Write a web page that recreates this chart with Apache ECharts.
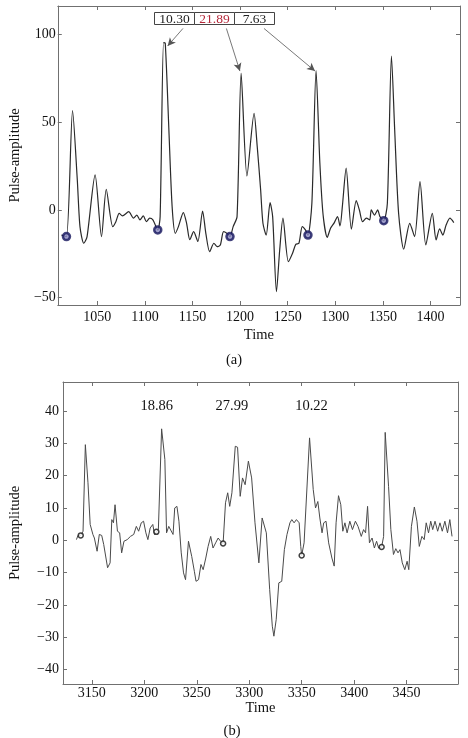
<!DOCTYPE html>
<html>
<head>
<meta charset="utf-8">
<script src="https://cdn.jsdelivr.net/npm/echarts@6/dist/echarts.min.js"></script>
<style>
  html, body { margin: 0; padding: 0; background: #fff; }
  #chart { width: 468px; height: 738px; }
</style>
</head>
<body>
<div id="chart"></div>
<script>
// panel (a)
const timeA = [1012.2, 1017.6, 1024, 1029, 1031.8, 1035.8, 1039.2, 1047.7, 1054.4, 1059.4,
  1066.2, 1069.5, 1073, 1076.4, 1083, 1088, 1091.5, 1094.8, 1098.3, 1101.6,
  1105, 1108.4, 1113.5, 1116, 1119.6, 1121.4, 1125.2, 1128.6, 1132, 1135.2,
  1140.4, 1143.8, 1147.2, 1151.2, 1155.6, 1160.6, 1164, 1168, 1172.5, 1175.8,
  1179.2, 1182.6, 1186, 1189.4, 1192.7, 1196.8, 1201.1, 1207.2, 1214.7, 1218,
  1221.5, 1224, 1227.4, 1231.5, 1234.2, 1238.2, 1241.6, 1245, 1250.7, 1255.1,
  1258.5, 1261.8, 1265.3, 1268.6, 1271.3, 1275.4, 1279.8, 1283.8, 1287.2, 1291.6,
  1295, 1299, 1302.3, 1305, 1307.4, 1311.4, 1316.9, 1322, 1325.3, 1328.7,
  1332.7, 1336.1, 1337.8, 1341.2, 1344.5, 1346.9, 1350.9, 1354.7, 1359, 1362.4,
  1366.5, 1371.9, 1378.2, 1383.3, 1389, 1395.1, 1401.9, 1405.9, 1409.6, 1413,
  1416.4, 1420.4, 1424.5];
const ampA = [-14.3, -15.2, 56.6, 17, -9.5, -19, -15.4, 20, -15.2, 11.8,
  -9.5, -6.7, -1.9, -3.4, -1, -4.7, -2.9, -5.7, -3.4, -6.7,
  -4.7, -5.7, -11.4, -3.8, 95.4, 95, 45.6, 1.9, -13.3, -9.5,
  -1.5, -7.6, -17, -12.4, -18, -0.6, -13.3, -23.8, -19, -20.9,
  -20, -12.4, -13.3, -15.2, -9.5, -3.8, 77.9, 19.4, 55.1, 36.1,
  12, -7.6, -14.3, 4.2, -3.8, -46.6, -22.8, -4.7, -29.5, -24.7,
  -19.6, -19, -9.5, -11.4, -14.3, 3.8, 79.4, 26.6, -2.9, -15.6,
  -10.4, -7.2, -3.8, -9.1, 1.9, 23.8, -11, 5.3, 0, -6.7,
  -4.7, -5.7, 0, -2.9, 0, -3.8, -6.1, 3.8, 87.8, 45.6,
  -1.9, -22.4, -7.6, -15.2, 16.1, -20, -1.9, -17.1, -10.8, -14.3,
  -8.6, -4.7, -7.2];
const onsetTimeA = [1017.6, 1113.5, 1189.4, 1271.3, 1350.9];
const onsetAmpA = [-15.2, -11.4, -15.2, -14.3, -6.1];
const intervalsA = ['10.30', '21.89', '7.63'];
const ticksXA = [1050, 1100, 1150, 1200, 1250, 1300, 1350, 1400];
const ticksYA = [-50, 0, 50, 100];

// panel (b)
const timeB = [3135.3, 3136.8, 3139.4, 3141.6, 3143.8, 3146.3, 3148.4, 3151, 3152.4, 3155,
  3157.1, 3159.4, 3161.3, 3162.8, 3165, 3167.4, 3169, 3170.6, 3172.1, 3174.4,
  3176.5, 3178.4, 3180.6, 3183.7, 3186.8, 3189.9, 3192.4, 3194.6, 3197.1, 3199.3,
  3201.5, 3203.4, 3205.6, 3208.1, 3209.7, 3211.5, 3213.4, 3216.5, 3219.6, 3221.2,
  3223.3, 3225, 3227.4, 3229, 3231.1, 3233, 3235.2, 3237.4, 3239.3, 3242.1,
  3245.2, 3247.7, 3249.3, 3251.7, 3254, 3256.1, 3258.6, 3260.8, 3263.3, 3265.5,
  3268, 3270.4, 3272.7, 3275.1, 3277.4, 3279.5, 3281.4, 3283.5, 3286.7, 3288.9,
  3291.4, 3293.6, 3296.1, 3299.2, 3302.3, 3305.5, 3309.2, 3312.3, 3316.3, 3319.5,
  3322, 3323.5, 3325.7, 3328.2, 3331, 3333.5, 3336, 3338.8, 3340.6, 3342.8,
  3345, 3347.6, 3349.1, 3350, 3352.3, 3357.5, 3361, 3363.2, 3365.4, 3367.3,
  3369.4, 3371, 3373.2, 3375.7, 3378.8, 3381, 3382.8, 3385.1, 3387.3, 3389.2,
  3391.2, 3393.3, 3395.9, 3398.4, 3401.2, 3403.7, 3406.8, 3409, 3410.9, 3412.8,
  3414.6, 3417.1, 3419.3, 3421.4, 3423.3, 3426.2, 3428.1, 3429.6, 3432.8, 3435,
  3437.5, 3439.7, 3441.8, 3443.7, 3445.9, 3448.3, 3450.5, 3452.1, 3454.6, 3457.4,
  3459.9, 3462.1, 3464.6, 3466.8, 3468.7, 3470.9, 3473, 3474.9, 3477.1, 3479.6,
  3481.8, 3484, 3486.5, 3489, 3491.2, 3493.3];
const ampB = [0.2, 1.5, 1.5, 2.8, 29.6, 17.8, 4.9, 1.8, 0.7, -3.4,
  1.8, 1.5, -1.3, -0.8, -8.5, -7, 6.4, 5.4, 11, 2.8,
  2.3, -3.9, -0.3, 0.2, 1.2, 1.8, 4.3, 2.8, 5.4, 5.9,
  2.3, 0.2, 3.8, 4.9, 1.8, 2.6, 3.3, 34.5, 25, 2.3,
  4.3, 3.8, 1.8, 10, 10.5, 5.9, -3.9, -10.1, -12.2, -0.3,
  -5, -9.6, -12.7, -12.2, -7.5, -9.1, -5.5, -1.9, 1.2, -2.4,
  -0.8, 0.7, -0.3, -1.0, 11.6, 14.7, 10.5, 14.7, 29.1, 28.8,
  13.6, 19.3, 17.2, 24.5, 19.3, 5.4, -7, 6.9, 2.3, -15.3,
  -26.6, -29.7, -24.6, -13.2, -12.7, -2.9, 1.8, 5.4, 6.4, 5.4,
  6.4, 5.4, -1.9, -4.7, -0.8, 31.7, 15.7, 10, 12, 6.9,
  2.3, 5.4, 5.9, -0.8, -5.5, -8, 5.4, 13.8, 11, 2.8,
  5.4, 2.3, 5.9, 3.3, 5.9, 4.3, 1.2, 3.3, 2.3, 10.5,
  -0.8, 0.7, -2.4, -0.3, -2.4, -2.1, 1.2, 33.4, 16.7, 3.3,
  -4.4, -2.6, -3.9, -2.9, -7, -9.1, -6.5, -9.1, 4.3, 10.3,
  5.9, -1.9, 1.2, 0.2, 5.4, 2.3, 5.9, 3.3, 5.9, 2.8,
  5.4, 2.8, 5.9, 2.3, 6.4, 1.2];
const onsetTimeB = [3139.4, 3211.5, 3275.1, 3350, 3426.2];
const onsetAmpB = [1.5, 2.6, -1.0, -4.7, -2.1];
const intervalsB = ['18.86', '27.99', '10.22'];
const intervalPosB = [3211.8, 3283.5, 3359.4];
const ticksXB = [3150, 3200, 3250, 3300, 3350, 3400, 3450];
const ticksYB = [-40, -30, -20, -10, 0, 10, 20, 30, 40];

const font = 'Liberation Serif';
const frame = '#707070';

const fmt = v => (v < 0 ? '\u2212' + Math.abs(v) : String(v));

function axis(gridIndex, position, min, max, ticks, showLabel, margin, name, nameGap) {
  return {
    type: 'value', gridIndex, position, min, max,
    name: name || '',
    nameLocation: 'middle',
    nameGap: nameGap || 0,
    nameRotate: (position === 'left' && name) ? 90 : null,
    nameTextStyle: {fontFamily: font, fontSize: 14.5, color: '#111'},
    axisLine: {show: true, onZero: false, lineStyle: {color: frame, width: 1}},
    axisTick: {show: true, inside: true, length: 4, customValues: ticks, lineStyle: {color: frame}},
    axisLabel: {show: showLabel, customValues: ticks, formatter: fmt, margin: margin || 4,
      fontFamily: font, fontSize: 14, color: '#111'},
    splitLine: {show: false}
  };
}

const chart = echarts.init(document.getElementById('chart'));

const option = {
  animation: false,
  backgroundColor: '#fff',
  grid: [
    {left: 43, right: 8, top: 6, height: 299},
    {left: 56, right: 10, top: 382, height: 302}
  ],
  xAxis: [
    axis(0, 'bottom', 1008.5, 1431, ticksXA, true, 5, 'Time', 23),
    axis(0, 'top', 1008.5, 1431, ticksXA, false),
    axis(1, 'bottom', 3122.5, 3499, ticksXB, true, 2, 'Time', 16),
    axis(1, 'top', 3122.5, 3499, ticksXB, false)
  ],
  yAxis: [
    axis(0, 'left', -54.2, 116.3, ticksYA, true, 2, 'Pulse-amplitude', 26),
    axis(0, 'right', -54.2, 116.3, ticksYA, false),
    axis(1, 'left', -44.5, 49, ticksYB, true, 4, 'Pulse-amplitude', 40),
    axis(1, 'right', -44.5, 49, ticksYB, false)
  ],
  series: [
    {
      type: 'line', xAxisIndex: 0, yAxisIndex: 0,
      data: timeA.map((t, i) => [t, ampA[i]]),
      showSymbol: false, smooth: 0.25,
      lineStyle: {color: '#2a2a2a', width: 1.2},
      markLine: {
        silent: true,
        symbol: ['none', 'arrow'],
        symbolSize: [6, 8],
        label: {show: false},
        lineStyle: {color: '#555', width: 0.8, type: 'solid'},
        data: [
          [{coord: [1140, 103.5]}, {coord: [1123.9, 93.5]}],
          [{coord: [1185.6, 103.5]}, {coord: [1199.8, 79.2]}],
          [{coord: [1225.1, 103.5]}, {coord: [1278.7, 79.2]}]
        ]
      }
    },
    {
      type: 'scatter', xAxisIndex: 0, yAxisIndex: 0,
      data: onsetTimeA.map((t, i) => [t, onsetAmpA[i]]),
      symbol: 'circle', symbolSize: 7, z: 5,
      itemStyle: {color: '#8a8ac0', borderColor: '#15155c', borderWidth: 2.5}
    },
    {
      type: 'line', xAxisIndex: 2, yAxisIndex: 2,
      data: timeB.map((t, i) => [t, ampB[i]]),
      showSymbol: false,
      lineStyle: {color: '#4a4a4a', width: 1},
      markPoint: {
        silent: true,
        symbol: 'circle', symbolSize: 0,
        label: {show: true, position: 'inside', fontFamily: font, fontSize: 14.5, color: '#111',
          formatter: p => p.name},
        data: intervalsB.map((s, i) => ({name: s, coord: [intervalPosB[i], 41.5]}))
      }
    },
    {
      type: 'scatter', xAxisIndex: 2, yAxisIndex: 2,
      data: onsetTimeB.map((t, i) => [t, onsetAmpB[i]]),
      symbol: 'circle', symbolSize: 5, z: 5,
      itemStyle: {color: '#fff', borderColor: '#111', borderWidth: 1.5}
    }
  ],
  graphic: [
    ...intervalsA.map((s, i) => ({
      type: 'group', x: 154.5 + i * 40, y: 12.5,
      children: [
        {type: 'rect', shape: {x: 0, y: 0, width: 40, height: 12},
          style: {fill: '#fff', stroke: '#444', lineWidth: 1}},
        {type: 'text', x: 20, y: 6.5,
          style: {text: s, align: 'center', verticalAlign: 'middle',
            font: '13.5px "Liberation Serif"', fill: i === 1 ? '#b5283a' : '#222'}}
      ]
    })),
    {type: 'text', x: 234, y: 360,
      style: {text: '(a)', align: 'center', verticalAlign: 'middle', font: '14.5px "Liberation Serif"', fill: '#111'}},
    {type: 'text', x: 232, y: 731,
      style: {text: '(b)', align: 'center', verticalAlign: 'middle', font: '14.5px "Liberation Serif"', fill: '#111'}}
  ]
};

chart.setOption(option);
</script>
</body>
</html>
